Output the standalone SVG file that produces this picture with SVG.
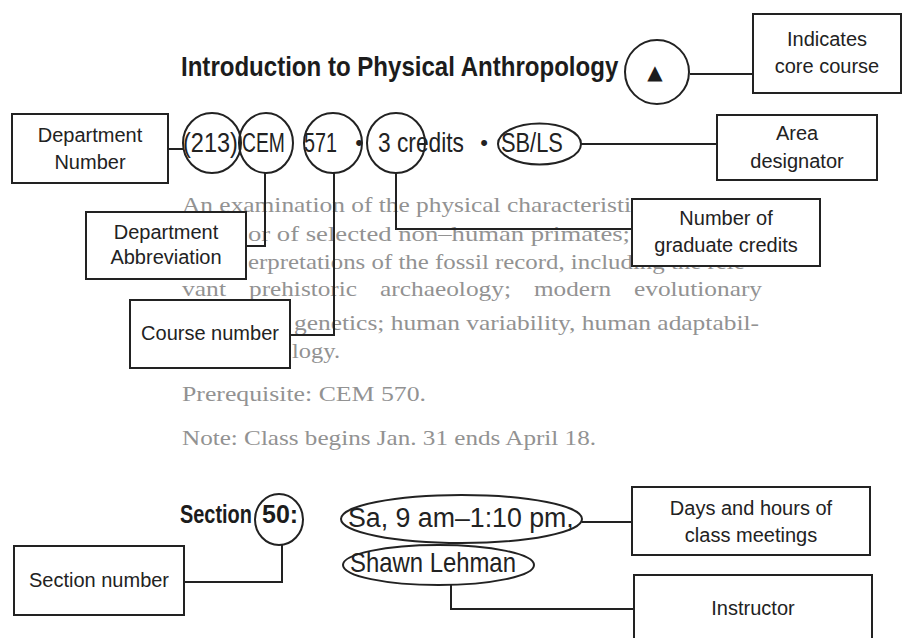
<svg xmlns="http://www.w3.org/2000/svg" width="906" height="638" viewBox="0 0 906 638">
  <style>
    .box { fill: #ffffff; stroke: #222222; stroke-width: 2; }
    .ring { fill: none; stroke: #222222; stroke-width: 2; }
    .conn { fill: none; stroke: #222222; stroke-width: 2; }
    .lbl { font-family: "Liberation Sans", Arial, sans-serif; font-size: 20px; fill: #222222; text-anchor: middle; }
    .cat { font-family: "Liberation Sans", Arial, sans-serif; font-size: 28px; fill: #222222; }
    .dot { font-family: "Liberation Sans", Arial, sans-serif; font-size: 22px; fill: #222222; text-anchor: middle; }
    .ttl { font-family: "Liberation Sans", Arial, sans-serif; font-weight: bold; fill: #1c1c1c; }
    .para { font-family: "Liberation Serif", "Times New Roman", serif; font-size: 22px; fill: #929292; }
  </style>
  <rect x="0" y="0" width="906" height="638" fill="#ffffff"/>

  <!-- Body text of the catalogue entry -->
  <g id="body-text">
    <text class="ttl" font-size="28" transform="translate(181,76) scale(0.859,1)">Introduction to Physical Anthropology</text>
    <text class="dot" x="359" y="150">•</text>
    <text class="dot" x="484" y="150">•</text>
    <text class="para" x="182" y="212" textLength="449" lengthAdjust="spacingAndGlyphs">An examination of the physical characteristi</text>
    <text class="para" x="248" y="241" textLength="382" lengthAdjust="spacingAndGlyphs">or of selected non–human primates;</text>
    <text class="para" x="248" y="269" textLength="505" lengthAdjust="spacingAndGlyphs">erpretations of the fossil record, including the rele-</text>
    <text class="para" x="182" y="296" textLength="44" lengthAdjust="spacingAndGlyphs">vant</text>
    <text class="para" x="249" y="296" textLength="108" lengthAdjust="spacingAndGlyphs">prehistoric</text>
    <text class="para" x="380" y="296" textLength="131" lengthAdjust="spacingAndGlyphs">archaeology;</text>
    <text class="para" x="534" y="296" textLength="77" lengthAdjust="spacingAndGlyphs">modern</text>
    <text class="para" x="634" y="296" textLength="128" lengthAdjust="spacingAndGlyphs">evolutionary</text>
    <text class="para" x="294" y="330" textLength="465" lengthAdjust="spacingAndGlyphs">genetics; human variability, human adaptabil-</text>
    <text class="para" x="292" y="358" textLength="48" lengthAdjust="spacingAndGlyphs">logy.</text>
    <text class="para" x="182" y="401" textLength="244" lengthAdjust="spacingAndGlyphs">Prerequisite:  CEM 570.</text>
    <text class="para" x="182" y="445" textLength="414" lengthAdjust="spacingAndGlyphs">Note:  Class begins Jan. 31 ends April 18.</text>
    <text class="ttl" font-size="25" transform="translate(180,523) scale(0.797,1)">Section</text>
  </g>

  <!-- Connectors -->
  <g id="connectors">
    <path class="conn" d="M690,74 H753"/>
    <path class="conn" d="M168,149 H183"/>
    <path class="conn" d="M265,172 V246 H246"/>
    <path class="conn" d="M334,173 V335 H290"/>
    <path class="conn" d="M396,173 V229 H632"/>
    <path class="conn" d="M581,144 H717"/>
    <path class="conn" d="M282,545 V582 H184"/>
    <path class="conn" d="M582,522 H632"/>
    <path class="conn" d="M451,585 V609 H634"/>
  </g>

  <!-- Circled items -->
  <g id="core-mark">
    <circle class="ring" cx="657" cy="72" r="32"/>
    <text x="655" y="79" font-family="DejaVu Sans, sans-serif" font-size="20" fill="#1c1c1c" text-anchor="middle">▲</text>
  </g>
  <g id="dept-number">
    <ellipse class="ring" cx="212" cy="143" rx="29" ry="30"/>
    <text class="cat" transform="translate(183,152) scale(0.841,1)">(213)</text>
  </g>
  <g id="dept-abbrev">
    <ellipse class="ring" cx="266" cy="143" rx="27" ry="30"/>
    <text class="cat" transform="translate(242,152) scale(0.69,1)">CEM</text>
  </g>
  <g id="course-number">
    <ellipse class="ring" cx="333" cy="143" rx="29" ry="30"/>
    <text class="cat" transform="translate(304,152) scale(0.707,1)">571</text>
  </g>
  <g id="credits">
    <ellipse class="ring" cx="396" cy="143" rx="29" ry="30"/>
    <text class="cat" transform="translate(378,152) scale(0.813,1)">3 credits</text>
  </g>
  <g id="area">
    <ellipse class="ring" cx="539.5" cy="144" rx="41.5" ry="20.5"/>
    <text class="cat" transform="translate(501,152) scale(0.78,1)">SB/LS</text>
  </g>
  <g id="section">
    <ellipse class="ring" cx="279" cy="519.5" rx="24" ry="25.5"/>
    <text class="ttl" font-size="25" x="262" y="523">50:</text>
  </g>
  <g id="days-hours">
    <ellipse class="ring" cx="461.5" cy="519" rx="120.5" ry="24"/>
    <text class="cat" transform="translate(348,527) scale(0.955,1)">Sa, 9 am–1:10 pm,</text>
  </g>
  <g id="instructor">
    <ellipse class="ring" cx="438.5" cy="565" rx="95.5" ry="20"/>
    <text class="cat" transform="translate(350,572) scale(0.853,1)">Shawn Lehman</text>
  </g>

  <!-- Label boxes -->
  <g id="label-core">
    <rect class="box" x="753" y="14" width="148" height="79"/>
    <text class="lbl" x="827" y="46">Indicates</text>
    <text class="lbl" x="827" y="73">core course</text>
  </g>
  <g id="label-dept-number">
    <rect class="box" x="12" y="114" width="156" height="69"/>
    <text class="lbl" x="90" y="142">Department</text>
    <text class="lbl" x="90" y="169">Number</text>
  </g>
  <g id="label-area">
    <rect class="box" x="717" y="115" width="160" height="65"/>
    <text class="lbl" x="797" y="140">Area</text>
    <text class="lbl" x="797" y="168">designator</text>
  </g>
  <g id="label-dept-abbrev">
    <rect class="box" x="86" y="212" width="160" height="67"/>
    <text class="lbl" x="166" y="239">Department</text>
    <text class="lbl" x="166" y="264">Abbreviation</text>
  </g>
  <g id="label-credits">
    <rect class="box" x="632" y="199" width="188" height="67"/>
    <text class="lbl" x="726" y="225">Number of</text>
    <text class="lbl" x="726" y="252">graduate credits</text>
  </g>
  <g id="label-course-number">
    <rect class="box" x="130" y="300" width="160" height="68"/>
    <text class="lbl" x="210" y="340">Course number</text>
  </g>
  <g id="label-section">
    <rect class="box" x="14" y="546" width="170" height="69"/>
    <text class="lbl" x="99" y="587">Section number</text>
  </g>
  <g id="label-days">
    <rect class="box" x="632" y="487" width="238" height="68"/>
    <text class="lbl" x="751" y="515">Days and hours of</text>
    <text class="lbl" x="751" y="542">class meetings</text>
  </g>
  <g id="label-instructor">
    <rect class="box" x="634" y="575" width="238" height="72"/>
    <text class="lbl" x="753" y="615">Instructor</text>
  </g>
</svg>
